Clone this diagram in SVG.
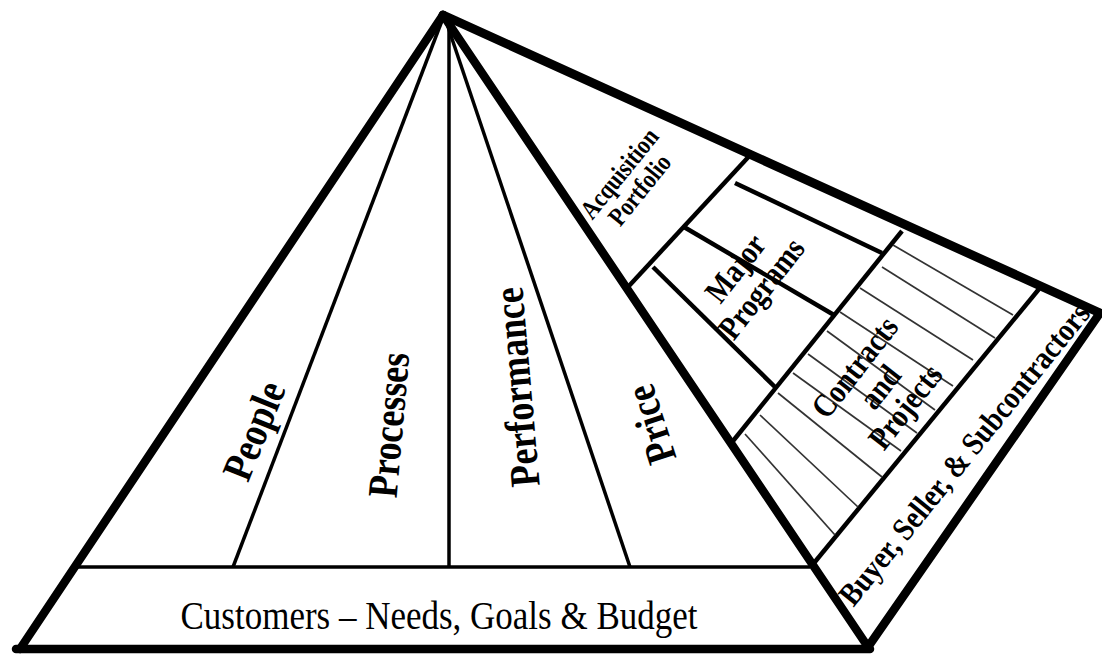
<svg xmlns="http://www.w3.org/2000/svg" width="1102" height="654" viewBox="0 0 1102 654">
<style>
.thick{stroke:#000;stroke-width:8.5;fill:none;stroke-linecap:round;stroke-linejoin:round}
.med{stroke:#000;stroke-width:4.5;fill:none}
.thin{stroke:#000;stroke-width:3.5;fill:none}
.hatch{stroke:#333;stroke-width:1.7;fill:none}
.lbl{font-family:"Liberation Serif","Times New Roman",serif;font-weight:bold;fill:#000;text-anchor:middle}
.base{font-family:"Liberation Serif","Times New Roman",serif;fill:#000;text-anchor:middle;font-size:35px}
</style>
<rect width="1102" height="654" fill="#fff"/>
<g id="connectors">
  <line class="thin" x1="75" y1="567" x2="810" y2="567"/>
  <line class="thin" x1="443" y1="18" x2="233" y2="567"/>
  <line class="thin" x1="449" y1="22" x2="449" y2="567"/>
  <line class="thin" x1="445" y1="18" x2="630" y2="567"/>
  <line class="med" x1="753" y1="152" x2="628" y2="287"/>
  <line class="med" x1="902" y1="231" x2="733" y2="441"/>
  <line class="med" x1="1039" y1="289" x2="814" y2="563"/>
  <line class="med" x1="735" y1="183" x2="882" y2="253"/>
  <line class="med" x1="684" y1="227" x2="834" y2="315"/>
  <line class="med" x1="653" y1="267" x2="776" y2="388"/>
  <g id="hatching">
    <line class="hatch" x1="893" y1="245" x2="1013" y2="315"/>
    <line class="hatch" x1="882" y1="267" x2="995" y2="338"/>
    <line class="hatch" x1="860" y1="288" x2="973" y2="360"/>
    <line class="hatch" x1="840" y1="312" x2="953" y2="386"/>
    <line class="hatch" x1="827" y1="331" x2="935" y2="410"/>
    <line class="hatch" x1="808" y1="354" x2="917" y2="433"/>
    <line class="hatch" x1="793" y1="373" x2="901" y2="451"/>
    <line class="hatch" x1="778" y1="393" x2="882" y2="477"/>
    <line class="hatch" x1="760" y1="415" x2="858" y2="507"/>
    <line class="hatch" x1="745" y1="434" x2="835" y2="535"/>
  </g>
  <line class="thick" x1="443" y1="15" x2="20" y2="649"/>
  <line class="thick" x1="16" y1="649" x2="870" y2="649"/>
  <line class="thick" x1="443" y1="15" x2="868" y2="647"/>
  <line class="thick" x1="443" y1="15" x2="1100" y2="313" style="stroke-width:9"/>
  <line class="thick" x1="1100" y1="313" x2="868" y2="647"/>
</g>
<g id="node-people"><text class="lbl" font-size="36" transform="translate(255,431) rotate(-68) translate(0,13) scale(1,1.18)">People</text></g>
<g id="node-processes"><text class="lbl" font-size="36" transform="translate(390,425) rotate(-85) translate(0,13) scale(1,1.18)">Processes</text></g>
<g id="node-performance"><text class="lbl" font-size="36" transform="translate(518,387) rotate(-95) translate(0,13) scale(1,1.18)">Performance</text></g>
<g id="node-price"><text class="lbl" font-size="36" transform="translate(652,424) rotate(-108) translate(0,13) scale(1,1.18)">Price</text></g>
<g id="node-customers"><text class="base" transform="translate(439,629) scale(1,1.12)">Customers – Needs, Goals &amp; Budget</text></g>
<g id="node-acquisition"><g transform="translate(630,182) rotate(-51)">
  <text class="lbl" font-size="22" transform="translate(0,-5) scale(1,1.2)">Acquisition</text>
  <text class="lbl" font-size="22" transform="translate(0,21) scale(1,1.2)">Portfolio</text>
</g></g>
<g id="node-major"><g transform="translate(748,278) rotate(-52)">
  <text class="lbl" font-size="28" transform="translate(0,-5) scale(1,1.18)">Major</text>
  <text class="lbl" font-size="28" transform="translate(0,28) scale(1,1.18)">Programs</text>
</g></g>
<g id="node-contracts"><g transform="translate(880,387) rotate(-52)">
  <text class="lbl" font-size="28" transform="translate(0,-21) scale(1,1.18)">Contracts</text>
  <text class="lbl" font-size="28" transform="translate(0,11) scale(1,1.18)">and</text>
  <text class="lbl" font-size="28" transform="translate(0,43) scale(1,1.18)">Projects</text>
</g></g>
<g id="node-buyer"><text class="lbl" font-size="28" transform="translate(964,454) rotate(-51) translate(0,11) scale(1,1.15)">Buyer, Seller, &amp; Subcontractors</text></g>
</svg>
